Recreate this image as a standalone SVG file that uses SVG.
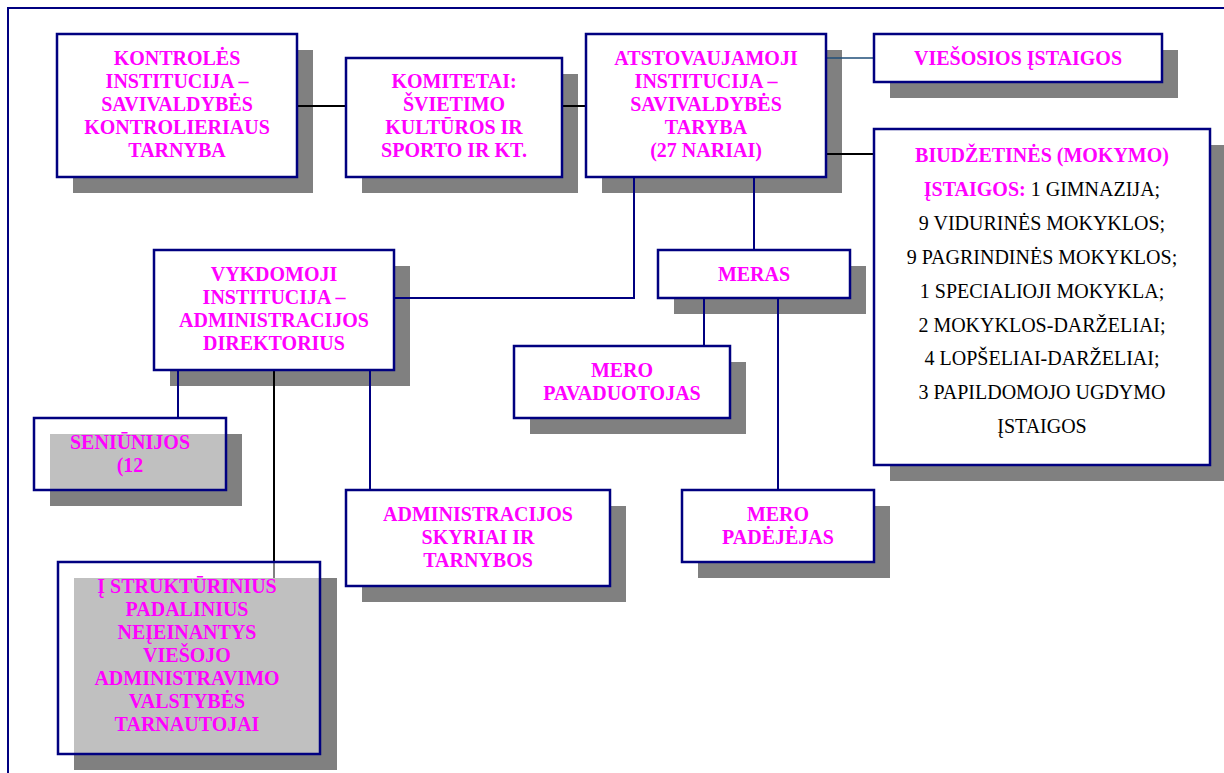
<svg xmlns="http://www.w3.org/2000/svg" width="1224" height="773" viewBox="0 0 1224 773">
<style>
.bg{fill:#ffffff}
.frame{fill:none;stroke:#000080;stroke-width:2}
.sh{fill:#808080}
.box{fill:#ffffff;stroke:#000080;stroke-width:2.5}
.tbox{fill:#ffffff;fill-opacity:0.5;stroke:#000080;stroke-width:2.5}
.t{font-family:"Liberation Serif","Times New Roman",serif;font-weight:bold;font-size:20px;fill:#ff00ff;text-anchor:middle}
.r{font-family:"Liberation Serif","Times New Roman",serif;font-size:20px;fill:#000000;text-anchor:middle}
.rb{font-weight:bold;fill:#ff00ff}
.cb{stroke:#000000;stroke-width:2;fill:none}
.cn{stroke:#000080;stroke-width:2;fill:none}
.ct{stroke:#1f4e79;stroke-width:1.5;fill:none}
</style>
<rect class="bg" x="0" y="0" width="1224" height="773"/>
<path class="frame" d="M8,773 V8 H1224"/>

<g id="shadows">
<rect class="sh" x="73" y="50" width="240" height="143"/>
<rect class="sh" x="362" y="74" width="216" height="119"/>
<rect class="sh" x="602" y="50" width="240" height="143"/>
<rect class="sh" x="890" y="50" width="288" height="48"/>
<rect class="sh" x="890" y="145" width="340" height="336"/>
<rect class="sh" x="170" y="266" width="240" height="120"/>
<rect class="sh" x="674" y="266" width="192" height="48"/>
<rect class="sh" x="530" y="362" width="216" height="72"/>
<rect class="sh" x="50" y="434" width="192" height="72"/>
<rect class="sh" x="362" y="506" width="264" height="96"/>
<rect class="sh" x="698" y="506" width="192" height="72"/>
<rect class="sh" x="74" y="578" width="263" height="192"/>
</g>

<g id="connectors">
<line class="cb" x1="297" y1="106" x2="346" y2="106"/>
<line class="cb" x1="562" y1="106" x2="586" y2="106"/>
<line class="ct" x1="826" y1="58" x2="874" y2="58"/>
<line class="cb" x1="826" y1="154" x2="874" y2="154"/>
<path class="cn" d="M634,177 V298 H394"/>
<line class="cn" x1="754" y1="177" x2="754" y2="250"/>
<line class="cn" x1="704" y1="298" x2="704" y2="346"/>
<line class="cn" x1="778" y1="298" x2="778" y2="490"/>
<line class="cn" x1="178" y1="370" x2="178" y2="418"/>
<line class="cn" x1="370" y1="370" x2="370" y2="490"/>
<line class="cb" x1="274" y1="370" x2="274" y2="578"/>
</g>

<g id="kontroles">
<rect class="box" x="57" y="34" width="240" height="143"/>
<text class="t" transform="translate(177 65) scale(1 1.03)">KONTROLĖS</text>
<text class="t" transform="translate(177 88) scale(1 1.03)">INSTITUCIJA –</text>
<text class="t" transform="translate(177 111) scale(1 1.03)">SAVIVALDYBĖS</text>
<text class="t" transform="translate(177 134) scale(1 1.03)">KONTROLIERIAUS</text>
<text class="t" transform="translate(177 157) scale(1 1.03)">TARNYBA</text>
</g>

<g id="komitetai">
<rect class="box" x="346" y="58" width="216" height="119"/>
<text class="t" transform="translate(454 88) scale(1 1.03)">KOMITETAI:</text>
<text class="t" transform="translate(454 111) scale(1 1.03)">ŠVIETIMO</text>
<text class="t" transform="translate(454 134) scale(1 1.03)">KULTŪROS IR</text>
<text class="t" transform="translate(454 157) scale(1 1.03)">SPORTO IR KT.</text>
</g>

<g id="atstovaujamoji">
<rect class="box" x="586" y="34" width="240" height="143"/>
<text class="t" transform="translate(706 65) scale(1 1.03)">ATSTOVAUJAMOJI</text>
<text class="t" transform="translate(706 88) scale(1 1.03)">INSTITUCIJA –</text>
<text class="t" transform="translate(706 111) scale(1 1.03)">SAVIVALDYBĖS</text>
<text class="t" transform="translate(706 134) scale(1 1.03)">TARYBA</text>
<text class="t" transform="translate(706 157) scale(1 1.03)">(27 NARIAI)</text>
</g>

<g id="viesosios">
<rect class="box" x="874" y="34" width="288" height="48"/>
<text class="t" transform="translate(1018 65) scale(1 1.03)">VIEŠOSIOS ĮSTAIGOS</text>
</g>

<g id="biudzetines">
<rect class="box" x="874" y="129" width="336" height="336"/>
<text class="t" x="1042" y="162">BIUDŽETINĖS (MOKYMO)</text>
<text class="r" x="1042" y="196"><tspan class="rb">ĮSTAIGOS:</tspan> 1 GIMNAZIJA;</text>
<text class="r" x="1042" y="230">9 VIDURINĖS MOKYKLOS;</text>
<text class="r" x="1042" y="264">9 PAGRINDINĖS MOKYKLOS;</text>
<text class="r" x="1042" y="298">1 SPECIALIOJI MOKYKLA;</text>
<text class="r" x="1042" y="332">2 MOKYKLOS-DARŽELIAI;</text>
<text class="r" x="1042" y="365">4 LOPŠELIAI-DARŽELIAI;</text>
<text class="r" x="1042" y="399">3 PAPILDOMOJO UGDYMO</text>
<text class="r" x="1042" y="433">ĮSTAIGOS</text>
</g>

<g id="vykdomoji">
<rect class="box" x="154" y="250" width="240" height="120"/>
<text class="t" transform="translate(274 281) scale(1 1.03)">VYKDOMOJI</text>
<text class="t" transform="translate(274 304) scale(1 1.03)">INSTITUCIJA –</text>
<text class="t" transform="translate(274 327) scale(1 1.03)">ADMINISTRACIJOS</text>
<text class="t" transform="translate(274 350) scale(1 1.03)">DIREKTORIUS</text>
</g>

<g id="meras">
<rect class="box" x="658" y="250" width="192" height="48"/>
<text class="t" transform="translate(754 281) scale(1 1.03)">MERAS</text>
</g>

<g id="mero-pavaduotojas">
<rect class="box" x="514" y="346" width="216" height="72"/>
<text class="t" transform="translate(622 377) scale(1 1.03)">MERO</text>
<text class="t" transform="translate(622 400) scale(1 1.03)">PAVADUOTOJAS</text>
</g>

<g id="seniunijos">
<rect class="tbox" x="34" y="418" width="192" height="72"/>
<text class="t" transform="translate(130 449) scale(1 1.03)">SENIŪNIJOS</text>
<text class="t" transform="translate(130 472) scale(1 1.03)">(12</text>
</g>

<g id="administracijos-skyriai">
<rect class="box" x="346" y="490" width="264" height="96"/>
<text class="t" transform="translate(478 521) scale(1 1.03)">ADMINISTRACIJOS</text>
<text class="t" transform="translate(478 544) scale(1 1.03)">SKYRIAI IR</text>
<text class="t" transform="translate(478 567) scale(1 1.03)">TARNYBOS</text>
</g>

<g id="mero-padejejas">
<rect class="box" x="682" y="490" width="192" height="72"/>
<text class="t" transform="translate(778 521) scale(1 1.03)">MERO</text>
<text class="t" transform="translate(778 544) scale(1 1.03)">PADĖJĖJAS</text>
</g>

<g id="strukturiniai">
<rect class="tbox" x="58" y="562" width="262" height="192"/>
<text class="t" transform="translate(187 593) scale(1 1.03)">Į STRUKTŪRINIUS</text>
<text class="t" transform="translate(187 616) scale(1 1.03)">PADALINIUS</text>
<text class="t" transform="translate(187 639) scale(1 1.03)">NEĮEINANTYS</text>
<text class="t" transform="translate(187 662) scale(1 1.03)">VIEŠOJO</text>
<text class="t" transform="translate(187 685) scale(1 1.03)">ADMINISTRAVIMO</text>
<text class="t" transform="translate(187 708) scale(1 1.03)">VALSTYBĖS</text>
<text class="t" transform="translate(187 731) scale(1 1.03)">TARNAUTOJAI</text>
</g>
</svg>
